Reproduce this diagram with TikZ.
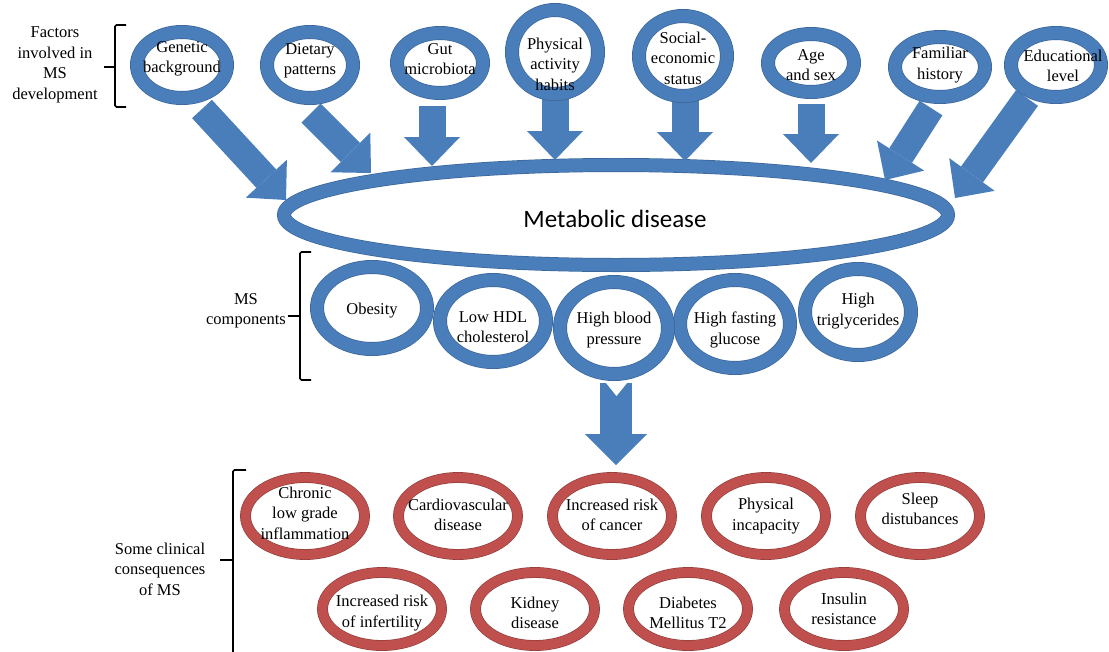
\documentclass[tikz,border=0pt]{standalone}
\usepackage{fontspec}
\setmainfont{Liberation Serif}
\newfontfamily\tnrfont{Liberation Serif}
\newfontfamily\calibfont{Carlito}
\usetikzlibrary{shapes.geometric,arrows.meta}
\definecolor{bm}{HTML}{4A7EBB}
\definecolor{bd}{HTML}{3A6598}
\definecolor{rm}{HTML}{C0504D}
\definecolor{rd}{HTML}{8C3A38}
\begin{document}
\begin{tikzpicture}[x=1pt,y=-1pt,
  bring/.style={ellipse, draw=bd, line width=0.7pt, double=bm, double distance=12.6pt, fill=white, inner sep=0pt},
  rring/.style={ellipse, draw=rd, line width=0.6pt, double=rm, double distance=9.6pt, fill=white, inner sep=0pt},
  lbl/.style={font=\tnrfont\fontsize{16.5}{20.5}\selectfont, align=center, inner sep=0pt},
  barrow/.style={draw=bm, line width=27pt, -{Triangle[width=56pt,length=29pt,line width=0pt,fill=bm]}},
  bigarrow/.style={draw=bm, line width=32pt, -{Triangle[width=62pt,length=31pt,line width=0pt,fill=bm]}},
  brk/.style={draw=black, line width=1.6pt, rounded corners=1.5pt},
]
\useasboundingbox (0,0) rectangle (1109,651);

% ---------- MS components ----------
\node[bring, minimum width=110pt, minimum height=82pt] (ob) at (372,308) {};
\node[bring, minimum width=106pt, minimum height=82pt] (hdl) at (493,321) {};
\node[bring, minimum width=110pt, minimum height=88pt] (hfg) at (735,324) {};
\node[bring, minimum width=106pt, minimum height=86pt] (htg) at (858,312) {};
\node[bring, minimum width=108pt, minimum height=92pt] (hbp) at (614,328) {};
\node[lbl] (ob-t) at (372,311) {Obesity};
\node[lbl] (hdl-t) at (493,327) {Low HDL\\cholesterol};
\node[lbl] (hbp-t) at (614,330) {High blood\\pressure};
\node[lbl] (hfg-t) at (735,330) {High fasting\\glucose};
\node[lbl] (htg-t) at (858,311) {High\\triglycerides};

% ---------- Metabolic disease ----------
\node[bring, minimum width=664pt, minimum height=100pt] (md) at (616,215) {};
\node[font=\calibfont\fontsize{25}{30}\selectfont, inner sep=0pt] (md-t) at (615,219) {Metabolic disease};

% ---------- arrow coordinates ----------
\coordinate (a1s) at (202,109); \coordinate (a1e) at (286,200);
\coordinate (a2s) at (311,113); \coordinate (a2e) at (371,173);
\coordinate (a3s) at (432,106); \coordinate (a3e) at (432,166);
\coordinate (a4s) at (555,98);  \coordinate (a4e) at (555,160);
\coordinate (a5s) at (685,100); \coordinate (a5e) at (685,161);
\coordinate (a6s) at (811,104); \coordinate (a6e) at (811,163);
\coordinate (a7s) at (931,108); \coordinate (a7e) at (885,180);
\coordinate (a8s) at (1027,98); \coordinate (a8e) at (955,198);
\coordinate (dns) at (616,383);  \coordinate (dne) at (616,465);

\draw[barrow] (a1s) -- (a1e);
\draw[barrow] (a2s) -- (a2e);
\draw[barrow] (a3s) -- (a3e);
\draw[barrow] (a4s) -- (a4e);
\draw[barrow] (a5s) -- (a5e);
\draw[barrow] (a6s) -- (a6e);
\draw[barrow] (a7s) -- (a7e);
\draw[barrow] (a8s) -- (a8e);
\draw[bigarrow] (dns) -- (dne);
\fill[white] (606,383) -- (627,383) -- (616.5,396) -- cycle;

% ---------- factors ----------
\node[bring, minimum width=90pt, minimum height=66pt] (gen) at (182,65) {};
\node[bring, minimum width=86pt, minimum height=66pt] (die) at (310,65) {};
\node[bring, minimum width=86pt, minimum height=60pt] (gut) at (440,63) {};
\node[bring, minimum width=86pt, minimum height=84pt] (phy) at (555,52) {};
\node[bring, minimum width=88pt, minimum height=80pt] (soc) at (683,56) {};
\node[bring, minimum width=86pt, minimum height=58pt] (age) at (811,63) {};
\node[bring, minimum width=90pt, minimum height=60pt] (fam) at (940,67) {};
\node[bring, minimum width=90pt, minimum height=64pt] (edu) at (1056,65) {};
\node[lbl] (gen-t) at (182,59) {Genetic\\background};
\node[lbl] (die-t) at (310,61) {Dietary\\patterns};
\node[lbl] (gut-t) at (440,59) {Gut\\microbiota};
\node[lbl] (phy-t) at (555,64) {Physical\\activity\\habits};
\node[lbl] (soc-t) at (683,58) {Social-\\economic\\status};
\node[lbl] (age-t) at (811,65) {Age\\and sex};
\node[lbl] (fam-t) at (940,65) {Familiar\\history};
\node[lbl] (edu-t) at (1063,66) {Educational\\level};

% ---------- consequences ----------
\node[rring, minimum width=119pt, minimum height=77pt] (chr) at (305,516) {};
\node[rring, minimum width=119pt, minimum height=77pt] (cvd) at (458,516) {};
\node[rring, minimum width=119pt, minimum height=77pt] (can) at (612,516) {};
\node[rring, minimum width=119pt, minimum height=77pt] (inc) at (766,516) {};
\node[rring, minimum width=119pt, minimum height=77pt] (slp) at (920,516) {};
\node[rring, minimum width=119pt, minimum height=73pt] (inf) at (382,609) {};
\node[rring, minimum width=119pt, minimum height=73pt] (kid) at (535,609) {};
\node[rring, minimum width=119pt, minimum height=73pt] (dia) at (688,609) {};
\node[rring, minimum width=119pt, minimum height=73pt] (ins) at (844,609) {};
\node[lbl] (chr-t) at (305,513) {Chronic\\low grade\\inflammation};
\node[lbl] (cvd-t) at (458,515) {Cardiovascular\\disease};
\node[lbl] (can-t) at (612,515) {Increased risk\\of cancer};
\node[lbl] (inc-t) at (766,516) {Physical\\incapacity};
\node[lbl] (slp-t) at (920,509) {Sleep\\distubances};
\node[lbl] (inf-t) at (382,613) {Increased risk\\of infertility};
\node[lbl] (kid-t) at (535,613) {Kidney\\disease};
\node[lbl] (dia-t) at (688,613) {Diabetes\\Mellitus T2};
\node[lbl] (ins-t) at (844,609) {Insulin\\resistance};

% ---------- brackets and side labels ----------
\draw[brk] (126,25) -- (115,25) -- (115,107) -- (126,107);
\draw[brk] (115,67) -- (104,67);
\node[lbl] (fac-l) at (55,65) {Factors\\involved in\\MS\\development};

\draw[brk] (311,252) -- (300,252) -- (300,380) -- (311,380);
\draw[brk] (300,316) -- (288,316);
\node[lbl] (ms-l) at (246,311) {MS\\components};

\draw[brk] (246,470) -- (233,470) -- (233,655);
\draw[brk] (233,560) -- (220,560);
\node[lbl] (con-l) at (160,569) {Some clinical\\consequences\\of MS};
\end{tikzpicture}
\end{document}
